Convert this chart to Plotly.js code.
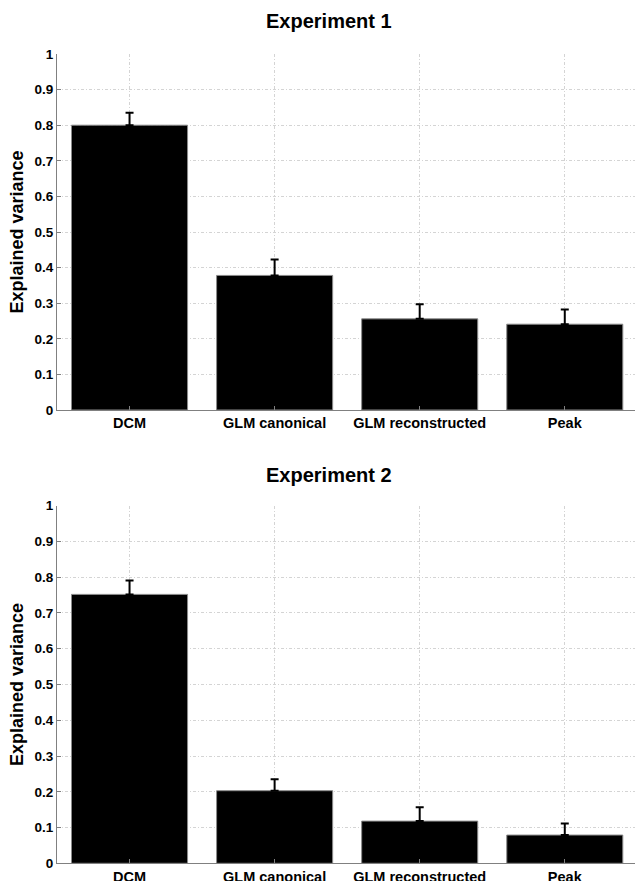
<!DOCTYPE html>
<html>
<head>
<meta charset="utf-8">
<script src="https://cdn.plot.ly/plotly-3.0.1.min.js"></script>
<style>html,body{margin:0;padding:0;overflow:hidden;background:#fff}</style>
</head>
<body>
<div id="chart" style="width:635px;height:881px"></div>
<script>
const categories = ["DCM", "GLM canonical", "GLM reconstructed", "Peak"];
const exp1Values = [0.800, 0.378, 0.256, 0.241];
const exp1Errors = [0.035, 0.045, 0.041, 0.041];
const exp2Values = [0.752, 0.203, 0.118, 0.079];
const exp2Errors = [0.039, 0.032, 0.039, 0.032];
const titles = ["Experiment 1", "Experiment 2"];
const yTitle = "Explained variance";
const yTicks = [0, 0.1, 0.2, 0.3, 0.4, 0.5, 0.6, 0.7, 0.8, 0.9, 1];
const yTickText = ["0", "0.1", "0.2", "0.3", "0.4", "0.5", "0.6", "0.7", "0.8", "0.9", "1"];

const font = "Arial, 'Liberation Sans', sans-serif";

function barTrace(vals, errs, xa, ya) {
  return {
    type: "bar", x: categories, y: vals, xaxis: xa, yaxis: ya,
    width: 0.8,
    marker: {color: "#000000", line: {color: "#8a8a8a", width: 1}},
    error_y: {type: "data", array: errs, symmetric: false, arrayminus: [0,0,0,0],
              color: "#000000", thickness: 2, width: 4},
    hoverinfo: "none", showlegend: false
  };
}

function xAxis(anchor) {
  return {
    anchor: anchor, domain: [0, 1], type: "category",
    range: [-0.5, 3.484],
    showline: true, linecolor: "#808080", linewidth: 1,
    ticks: "inside", ticklen: 4, tickcolor: "#808080",
    showgrid: true, gridcolor: "#d4d4d4", griddash: "3px,2px,1px,2px", gridwidth: 1,
    tickfont: {family: font, size: 14.5, color: "#000", weight: "bold"},
    zeroline: false, fixedrange: true
  };
}
function yAxis(anchor, dom) {
  return {
    anchor: anchor, domain: dom, range: [0, 1],
    tickvals: yTicks, ticktext: yTickText,
    showline: true, linecolor: "#808080", linewidth: 1,
    ticks: "inside", ticklen: 4, tickcolor: "#808080",
    showgrid: true, gridcolor: "#d4d4d4", griddash: "3px,2px,1px,2px", gridwidth: 1,
    tickfont: {family: font, size: 13.5, color: "#000", weight: "bold"},
    title: {text: yTitle, font: {family: font, size: 18, color: "#000", weight: "bold"}, standoff: 6},
    zeroline: false, fixedrange: true
  };
}

const data = [
  barTrace(exp1Values, exp1Errors, "x", "y"),
  barTrace(exp2Values, exp2Errors, "x2", "y2")
];

const layout = {
  width: 635, height: 881,
  margin: {l: 57, r: 0, t: 0, b: 0},
  paper_bgcolor: "#ffffff", plot_bgcolor: "#ffffff",
  xaxis: xAxis("y"),
  yaxis: yAxis("x", [1 - 410/881, 1 - 54/881]),
  xaxis2: xAxis("y2"),
  yaxis2: yAxis("x2", [1 - 863.3/881, 1 - 505.7/881]),
  annotations: [
    {text: titles[0], xref: "paper", yref: "paper", x: (328.5-57)/578, y: 1 - 21/881,
     xanchor: "center", yanchor: "middle", showarrow: false,
     font: {family: font, size: 20, color: "#000", weight: "bold"}},
    {text: titles[1], xref: "paper", yref: "paper", x: (328.5-57)/578, y: 1 - 475/881,
     xanchor: "center", yanchor: "middle", showarrow: false,
     font: {family: font, size: 20, color: "#000", weight: "bold"}}
  ]
};

Plotly.newPlot("chart", data, layout, {staticPlot: true, displayModeBar: false});
</script>
</body>
</html>
